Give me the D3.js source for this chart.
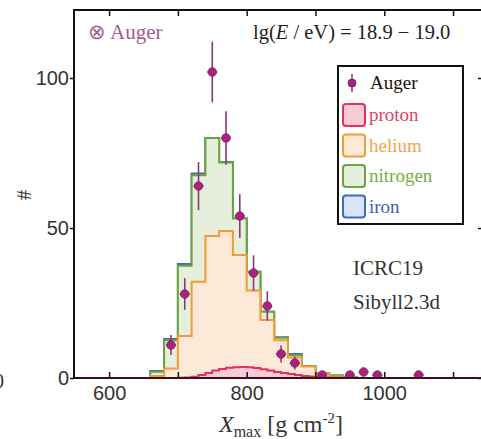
<!DOCTYPE html>
<html lang="en">
<head>
<meta charset="UTF-8">
<title>Xmax distribution</title>
<script src="https://d3js.org/d3.v7.min.js"></script>
<style>
    body { margin: 0; background: #fff; }
    svg { display: block; font-family: "Liberation Serif", serif; }
    .tick text { font-size: 20px; fill: #333; }
    .tick line { stroke: #111; stroke-width: 1.5px; }
</style>
</head>
<body>
<svg id="chart" width="481" height="439"></svg>
<script>
    // histogram bins (lower edges, 20 g/cm2 wide), stacked heights as drawn
    const binLow = [660, 680, 700, 720, 740, 760, 780, 800, 820, 840, 860, 880, 900, 920, 940];
    const ironTop = [2.3, 13.0, 38.0, 68.2, 80.0, 72.0, 53.2, 35.4, 22.1, 13.6, 8.0, 3.9, 1.6, 0.8, 0.3];
    const nitrogenTop = [2.1, 12.6, 37.4, 67.6, 80.0, 71.8, 53.2, 35.4, 22.1, 13.4, 7.6, 3.9, 1.6, 0.8, 0.3];
    const heliumTop = [0.7, 3.2, 14.0, 32.1, 47.3, 49.0, 41.0, 29.2, 19.3, 12.6, 6.8, 3.8, 1.6, 0.5, 0.2];

    // proton uses finer bins (10 g/cm2)
    const protonLow = [700, 710, 720, 730, 740, 750, 760, 770, 780, 790, 800, 810, 820, 830, 840, 850, 860, 870, 880, 890, 900, 910, 920, 930, 940];
    const protonTop = [0.1, 0.2, 0.4, 1.0, 1.7, 2.5, 3.0, 3.4, 3.6, 3.7, 3.6, 3.3, 2.9, 2.5, 2.0, 1.7, 1.3, 1.0, 0.7, 0.5, 0.3, 0.2, 0.1, 0.1, 0.05];

    // Auger data points
    const augerX = [690, 710, 730, 750, 770, 790, 810, 830, 850, 870, 910, 950, 970, 990, 1050];
    const augerN = [11, 28, 64, 102, 80, 54, 35, 24, 8, 5, 1, 1, 2, 1, 1];
    const augerErr = [3.3, 5.3, 8.0, 10.1, 8.9, 7.3, 5.9, 4.9, 2.8, 2.2, 1.0, 1.0, 1.4, 1.0, 1.0];

    const xTicks = [600, 700, 800, 900, 1000, 1100];
    const xLabels = [600, 800, 1000];
    const yTicks = [0, 50, 100];

    const pLeft = 74, pRight = 484, pTop = 10, pBottom = 378;
    const svg = d3.select("#chart");

    const x = d3.scaleLinear().domain([549, 1145]).range([pLeft, pRight]);
    const y = d3.scaleLinear().domain([0, 122.67]).range([pBottom, pTop]);

    svg.append("defs").append("clipPath").attr("id", "plot")
        .append("rect").attr("x", pLeft).attr("y", pTop)
        .attr("width", pRight - pLeft).attr("height", pBottom - pTop + 1);

    // turn a histogram into step points across the whole axis
    function steps(lows, vals, width) {
        const pts = [[549, 0]];
        lows.forEach((lo, i) => pts.push([lo, vals[i]]));
        pts.push([lows[lows.length - 1] + width, 0]);
        pts.push([1145, 0]);
        return pts;
    }

    const line = d3.line().curve(d3.curveStepAfter).x(d => x(d[0])).y(d => y(d[1]));
    const area = d3.area().curve(d3.curveStepAfter).x(d => x(d[0])).y0(y(0)).y1(d => y(d[1]));

    const series = [
        { name: "iron", pts: steps(binLow, ironTop, 20), stroke: "#3b6cc0", fill: "#d9e4f6" },
        { name: "nitrogen", pts: steps(binLow, nitrogenTop, 20), stroke: "#6ba43b", fill: "#e5efdb" },
        { name: "helium", pts: steps(binLow, heliumTop, 20), stroke: "#f39a32", fill: "#fde9d8" },
        { name: "proton", pts: steps(protonLow, protonTop, 10), stroke: "#e5305c", fill: "#f8cbd7" }
    ];

    const plot = svg.append("g").attr("clip-path", "url(#plot)");
    series.forEach(s => {
        plot.append("path").datum(s.pts).attr("d", area).attr("fill", s.fill);
        plot.append("path").datum(s.pts).attr("d", line)
            .attr("fill", "none").attr("stroke", s.stroke).attr("stroke-width", 2);
    });

    // Auger points
    const pts = plot.append("g").selectAll("g")
        .data(augerX.map((v, i) => ({ x: v, n: augerN[i], e: augerErr[i] })))
        .enter().append("g");
    pts.append("line")
        .attr("x1", d => x(d.x)).attr("x2", d => x(d.x))
        .attr("y1", d => y(d.n - d.e)).attr("y2", d => y(d.n + d.e))
        .attr("stroke", "#8a3a72").attr("stroke-width", 1.6);
    pts.append("line")
        .attr("x1", d => x(d.x) - 5).attr("x2", d => x(d.x) + 5)
        .attr("y1", d => y(d.n)).attr("y2", d => y(d.n))
        .attr("stroke", "#8a3a72").attr("stroke-width", 1.6);
    pts.append("circle")
        .attr("cx", d => x(d.x)).attr("cy", d => y(d.n)).attr("r", 4.3)
        .attr("fill", "#a8237e").attr("stroke", "#7d1c5e").attr("stroke-width", 0.8);

    // axes
    svg.append("g").attr("transform", `translate(0,${pBottom})`)
        .call(d3.axisBottom(x).tickValues(xTicks).tickSizeInner(-6).tickSizeOuter(0).tickPadding(6)
            .tickFormat(d => xLabels.includes(d) ? d : ""))
        .call(g => g.select(".domain").remove())
        .call(g => g.selectAll("text").attr("dy", "0.8em"));
    svg.append("g").attr("transform", `translate(0,${pTop})`)
        .call(d3.axisTop(x).tickValues(xTicks).tickSizeInner(-6).tickSizeOuter(0).tickFormat(""))
        .call(g => g.select(".domain").remove());
    svg.append("g").attr("transform", `translate(${pLeft},0)`)
        .call(d3.axisLeft(y).tickValues(yTicks).tickSizeInner(4).tickSizeOuter(0).tickPadding(1))
        .call(g => g.select(".domain").remove());
    svg.append("g").attr("transform", `translate(${pRight},0)`)
        .call(d3.axisRight(y).tickValues(yTicks).tickSizeInner(-6).tickSizeOuter(0).tickFormat(""))
        .call(g => g.select(".domain").remove());

    // frame
    svg.append("path")
        .attr("d", `M${pLeft},${pBottom}V${pTop}H${pRight}`)
        .attr("fill", "none").attr("stroke", "#111").attr("stroke-width", 2);
    svg.append("line")
        .attr("x1", pLeft).attr("x2", pRight).attr("y1", pBottom).attr("y2", pBottom)
        .attr("stroke", "#3a1020").attr("stroke-width", 2);

    // labels
    svg.append("text").attr("x", 88).attr("y", 39).attr("font-size", 21)
        .attr("fill", "#a65a90").text("\u2297 Auger");
    const lg = svg.append("text").attr("x", 253).attr("y", 39).attr("font-size", 20.5).attr("fill", "#222");
    lg.append("tspan").text("lg(");
    lg.append("tspan").attr("font-style", "italic").text("E");
    lg.append("tspan").text(" / eV) = 18.9 \u2212 19.0");

    svg.append("text").attr("x", 353).attr("y", 275).attr("font-size", 21).attr("fill", "#333").text("ICRC19");
    svg.append("text").attr("x", 353).attr("y", 309).attr("font-size", 21).attr("fill", "#333").text("Sibyll2.3d");

    svg.append("text").attr("transform", "translate(31,195) rotate(-90)")
        .attr("text-anchor", "middle").attr("font-size", 20).attr("fill", "#333").text("#");
    svg.append("text").attr("x", 4).attr("y", 388).attr("text-anchor", "end")
        .attr("font-size", 20).attr("fill", "#333").text("0");

    const xt = svg.append("text").attr("x", 281).attr("y", 432).attr("text-anchor", "middle")
        .attr("font-size", 24).attr("fill", "#333");
    xt.append("tspan").attr("font-style", "italic").text("X");
    xt.append("tspan").attr("font-size", 16).attr("dy", 5).text("max");
    xt.append("tspan").attr("dy", -5).text(" [g cm");
    xt.append("tspan").attr("font-size", 15).attr("dy", -9).text("-2");
    xt.append("tspan").attr("dy", 9).text("]");

    // legend
    const leg = svg.append("g");
    leg.append("rect").attr("x", 338).attr("y", 66).attr("width", 125).attr("height", 158)
        .attr("fill", "#fff").attr("stroke", "#111").attr("stroke-width", 2);
    leg.append("line").attr("x1", 352).attr("x2", 352).attr("y1", 74).attr("y2", 92)
        .attr("stroke", "#8a3a72").attr("stroke-width", 1.6);
    leg.append("circle").attr("cx", 352).attr("cy", 83).attr("r", 4)
        .attr("fill", "#a8237e").attr("stroke", "#7d1c5e").attr("stroke-width", 0.8);
    leg.append("text").attr("x", 370).attr("y", 89).attr("font-size", 19).attr("fill", "#111").text("Auger");
    const legText = { proton: "#e0406a", helium: "#f2a54a", nitrogen: "#76ad3e", iron: "#3a5fb0" };
    ["proton", "helium", "nitrogen", "iron"].forEach((name, i) => {
        const s = series.find(d => d.name === name);
        const cy = 115 + i * 30.5;
        leg.append("rect").attr("x", 343).attr("y", cy - 11).attr("width", 22).attr("height", 22)
            .attr("rx", 3).attr("fill", s.fill).attr("stroke", s.stroke).attr("stroke-width", 2);
        leg.append("text").attr("x", 369).attr("y", cy + 6).attr("font-size", 19)
            .attr("fill", legText[name]).text(name);
    });
</script>
</body>
</html>
